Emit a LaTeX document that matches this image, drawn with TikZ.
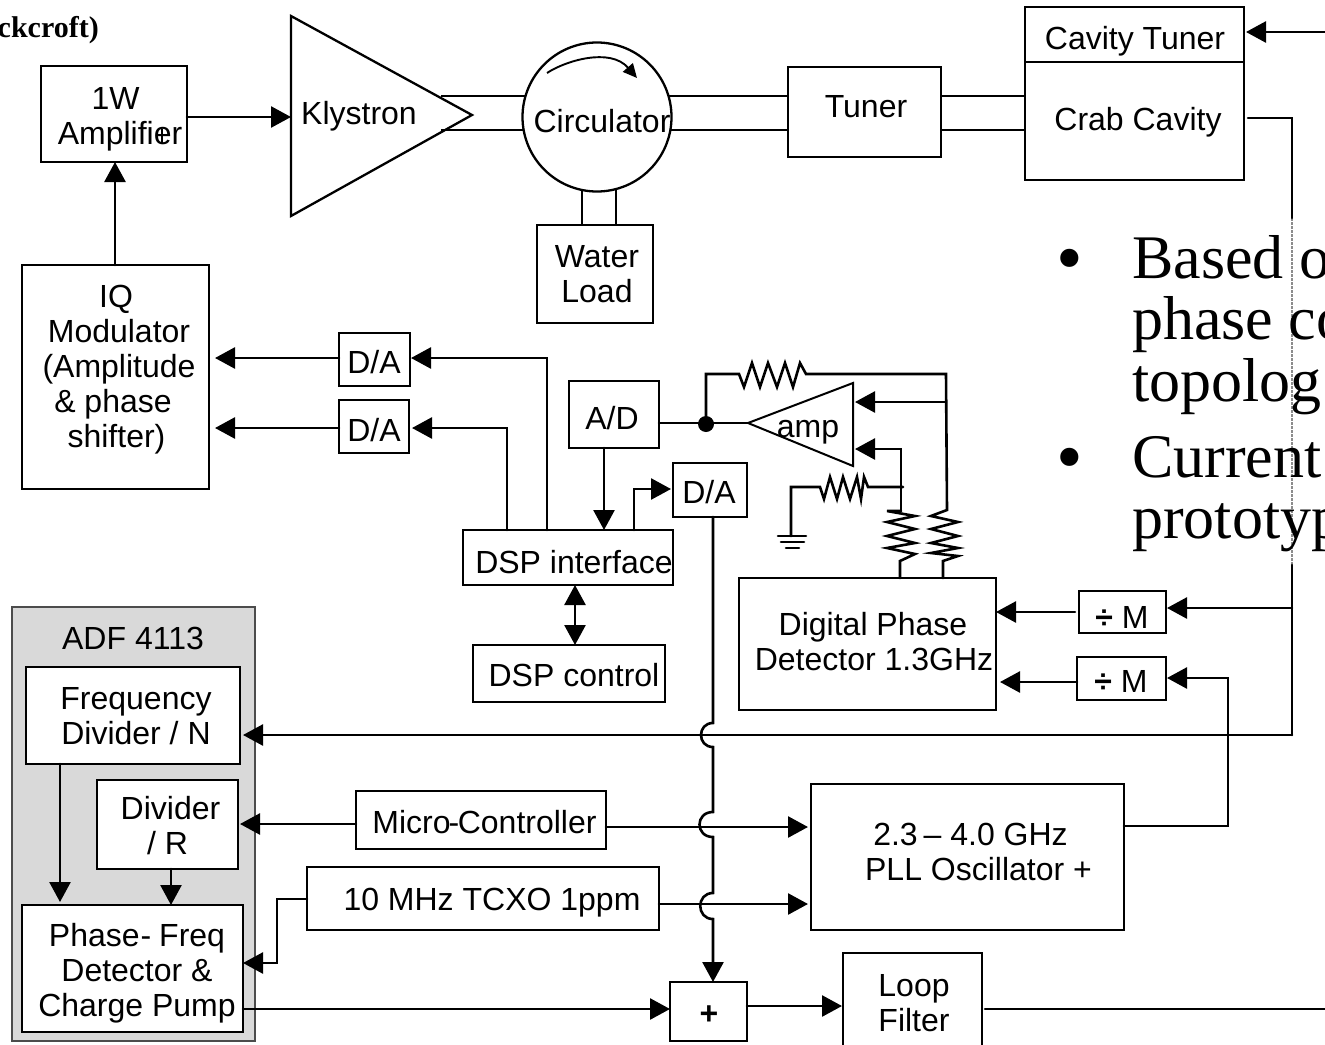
\documentclass[tikz,border=0pt]{standalone}
\usepackage{fontspec}
\setmainfont{Liberation Sans}
\newfontfamily\serifface{Liberation Serif}
\usetikzlibrary{arrows.meta}
\tikzset{
  wire/.style={line width=2.6pt,line cap=round,line join=miter},
  rf/.style={line width=1.9pt},
  arr/.style={wire,-{Triangle[length=20pt,width=21pt]}},
  darr/.style={wire,{Triangle[length=20pt,width=21pt]}-{Triangle[length=20pt,width=21pt]}},
  blk/.style={draw,line width=2.3pt,inner sep=0pt,outer sep=0pt,fill=white},
  lbl/.style={inner sep=0pt,align=center,font=\fontsize{32}{35}\selectfont},
  big/.style={inner sep=0pt,align=left,anchor=north west,font=\serifface\fontsize{62}{61.5}\selectfont},
  bul/.style={inner sep=0pt,anchor=base,font=\serifface\fontsize{76}{76}\selectfont},
}
\newcommand\blkbox[5]{\node[blk,minimum width={#3-#1},minimum height={#4-#2}] (#5) at ({(#1+#3)/2},{(#2+#4)/2}) {};}
\begin{document}
\begin{tikzpicture}[x=1pt,y=-1pt]
\useasboundingbox (0,0) rectangle (1325,1044);
\clip (0,0) rectangle (1325,1044);
% free ends
\coordinate (tuneIn) at (1325,32);
\coordinate (filterOut) at (1325,1009);
\coordinate (gapTop) at (1292,218);
\coordinate (gapBot) at (1292,565);
\coordinate (tapM) at (1292,608);
\coordinate (tapN) at (1292,735);
% partial heading
\node[inner sep=0pt,anchor=base east,font=\serifface\bfseries\fontsize{30}{32}\selectfont] (head) at (99,37) {ckcroft)};
% ADF panel
\node[draw=black!70,fill=black!15,line width=1.8pt,inner sep=0pt,outer sep=0pt,minimum width=243,minimum height=434] (adf) at (133.5,824) {};
\node[lbl] (adft) at (133,638) {ADF 4113};
% blocks
\blkbox{41}{66}{187}{162}{amp1}
\blkbox{788}{67}{941}{157}{tuner}
\blkbox{1025}{7}{1244}{180}{cav}
\blkbox{537}{225}{653}{323}{water}
\blkbox{22}{265}{209}{489}{iq}
\blkbox{339}{333}{410}{386}{daA}
\blkbox{339}{400}{409}{453}{daB}
\blkbox{569}{381}{659}{448}{ad}
\blkbox{463}{530}{673}{585}{dsp}
\blkbox{473}{645}{665}{702}{ctrl}
\blkbox{673}{463}{747}{517}{daC}
\blkbox{739}{578}{996}{710}{det}
\blkbox{1079}{591}{1166}{633}{divA}
\blkbox{1077}{657}{1166}{700}{divB}
\blkbox{811}{784}{1124}{930}{pll}
\blkbox{356}{791}{606}{849}{micro}
\blkbox{307}{867}{659}{930}{tcxo}
\blkbox{26}{667}{240}{764}{freq}
\blkbox{97}{780}{238}{869}{divr}
\blkbox{22}{905}{243}{1032}{pfd}
\blkbox{670}{982}{747}{1041}{plus}
\blkbox{843}{953}{982}{1050}{loop}
\draw[line width=2.3pt] (cav.west |- 0,62) -- (cav.east |- 0,62);
% klystron
\coordinate (kA) at (291,16); \coordinate (kB) at (291,216); \coordinate (kC) at (472,115);
\draw[line width=2.3pt,line join=miter] (kA) -- (kC) -- (kB) -- cycle;
\coordinate (kU) at (441,96); \coordinate (kL) at (441,130);
% circulator
\node[circle,draw,line width=2.3pt,minimum size=149,inner sep=0pt,outer sep=0pt] (circ) at (597,117) {};
\draw[rf] (kU) -- (circ.163 |- kU);
\draw[rf] (kL) -- (circ.190 |- kL);
\draw[rf] (circ.17 |- kU) -- (tuner.west |- kU);
\draw[rf] (circ.-10 |- kL) -- (tuner.west |- kL);
\draw[rf] (tuner.east |- kU) -- (cav.west |- kU);
\draw[rf] (tuner.east |- kL) -- (cav.west |- kL);
\draw[rf] (582,190) -- (water.north -| 582,0);
\draw[rf] (616,190) -- (water.north -| 616,0);
\draw[line width=1.9pt,-{Triangle[length=14pt,width=13pt]}] (547,73) .. controls (565,61) and (610,47) .. (637,78);
% amp
\coordinate (aT) at (748,423); \coordinate (aU) at (853,383); \coordinate (aL) at (853,466);
\draw[line width=2pt] (aT) -- (aU) -- (aL) -- cycle;
\node[lbl] (ampt) at (808,432) {amp};
% text in blocks
\node[lbl] (amp1t) at (120,119) {1W\kern9pt\\Amplifier};
\draw[line width=1.2pt] (162,129) -- (162,143);
\node[lbl] (klyt) at (359,116) {Klystron};
\node[lbl] (circt) at (602,121) {Circulator};
\node[lbl] (tunert) at (866,107) {Tuner};
\node[lbl] (cavtA) at (1135,41) {Cavity Tuner};
\node[lbl] (cavtB) at (1138,122) {Crab Cavity};
\node[lbl] (watert) at (597,274) {Water\\Load};
\node[lbl] (iqt) at (119,370) {IQ\kern6pt\\Modulator\\(Amplitude\\\&\ phase\kern12pt\\shifter)\kern5pt};
\node[lbl] (daAt) at (374,362) {D/A};
\node[lbl] (daBt) at (374,430) {D/A};
\node[lbl] (adt) at (612,418) {A/D};
\node[lbl] (daCt) at (709,492) {D/A};
\node[lbl] (dspt) at (574,562) {DSP interface};
\node[lbl] (ctrlt) at (574,675) {DSP control};
\node[lbl] (dett) at (874,642) {Digital Phase\kern2pt\\Detector 1.3GHz};
\node[lbl] (divAt) at (1122,617) {\textbf{÷} M};
\node[lbl] (divBt) at (1121,681) {\textbf{÷} M};
\node[lbl] (pllt) at (978.5,852) {2.3\kern-3pt\ – 4.0 GHz\kern16pt\\PLL Oscillator +};
\node[lbl] (microt) at (484.5,822) {Micro\kern-2pt-\kern-1.5pt Controller};
\node[lbl] (tcxot) at (492,903) {10 MHz TCXO 1ppm};
\node[lbl] (freqt) at (136,716) {Frequency\\Divider / N};
\node[lbl] (divrt) at (170.5,826) {Divider\\/ R\kern6pt};
\node[lbl] (pfdt) at (137,973.5) {Phase\kern1pt-\kern-1pt\ Freq\\Detector \&\\Charge Pump};
\node[lbl,font=\bfseries\fontsize{32}{35}\selectfont] (plust) at (709,1015) {+};
\node[lbl] (loopt) at (914,1003.5) {Loop\\Filter};
% gray overlay edge of the text frame
\draw[black!45,line width=2.4pt,dash pattern=on 3pt off 1pt] (gapTop) -- (gapBot);
% bullet text
\node[bul] (bulA) at (1070,283) {•};
\node[bul] (bulB) at (1070,482) {•};
\node[big] (txtA) at (1132,235) {Based o\\phase co\\topolog};
\node[big] (txtB) at (1132,436) {Current\\prototyp};
% connectors
\draw[arr] (amp1.east |- 0,117) -- (kA |- 0,117);
\draw[arr] (iq.north -| 115,0) -- (amp1.south -| 115,0);
\draw[arr,shorten >=2pt] (tuneIn) -- (cav.east |- tuneIn);
\draw[wire] (1248,118) -- (1292,118) -- (gapTop);
\draw[wire] (gapBot) -- (tapM) -- (tapN);
\draw[arr,shorten >=1pt] (tapM) -- (divA.east |- tapM);
\draw[arr,shorten >=3pt] (tapN) -- (freq.east |- tapN);
\draw[arr] (daA.west |- 0,358) -- (215,358);
\draw[arr] (daB.west |- 0,428) -- (215,428);
\draw[arr,shorten >=1pt] (dsp.north -| 547,0) -- (547,358) -- (daA.east |- 0,358);
\draw[arr,shorten >=3pt] (dsp.north -| 507,0) -- (507,428) -- (daB.east |- 0,428);
\draw[arr] (ad.south -| 604,0) -- (dsp.north -| 604,0);
\draw[darr] (dsp.south -| 575,0) -- (ctrl.north -| 575,0);
\draw[arr,shorten >=2pt] (dsp.north -| 634,0) -- (634,489) -- (daC.west |- 0,489);
\draw[wire] (ad.east |- aT) -- (aT);
\node[circle,fill=black,minimum size=16,inner sep=0pt] (junc) at (706,424) {};
% feedback network
\draw[wire] (junc.center) -- (706,374) -- (739,374) -- (744,387) -- (752,363) -- (760,387) -- (768,363) -- (777,387) -- (785,363) -- (793,387) -- (800,363) -- (806,374) -- (946,374) -- (947,510) -- (931,516) -- (958,522) -- (931,529) -- (958,536) -- (931,543) -- (958,548) -- (931,553) -- (958,556) -- (943,561) -- (det.north -| 943,0);
\draw[arr,shorten >=2pt] (946,402) -- (aU |- 0,402);
\draw[arr,shorten >=2pt] (901,511) -- (901,449) -- (aU |- 0,449);
\draw[wire] (det.north -| 900,0) -- (900,561) -- (915,554) -- (887,548) -- (915,543) -- (887,536) -- (915,529) -- (887,522) -- (915,516) -- (887,511) -- (901,511);
\draw[wire] (903,487) -- (868,487) -- (864,477) -- (861,499) -- (857,477) -- (850,499) -- (843,477) -- (837,499) -- (830,477) -- (824,499) -- (820,487) -- (791,487) -- (791,536);
\draw[wire] (778,536) -- (806,536);
\draw[wire] (781,542) -- (804,542);
\draw[wire] (786,548) -- (799,548);
% dividers
\draw[arr,shorten <=4pt] (divA.west |- 0,612) -- (det.east |- 0,612);
\draw[arr,shorten >=4pt] (divB.west |- 0,682) -- (det.east |- 0,682);
\draw[arr,shorten >=1pt] (pll.east |- 0,826) -- (1228,826) -- (1228,678) -- (divB.east |- 0,678);
% D/A down with jumps
\draw[arr] (daC.south -| 713,0) -- (713,723) .. controls (697,723) and (697,747) .. (713,747)
  -- (713,812) .. controls (695,812) and (695,837) .. (713,837)
  -- (713,893) .. controls (696,893) and (696,919) .. (713,919)
  -- (plus.north -| 713,0);
% micro / tcxo
\draw[arr,shorten >=2pt] (micro.west |- 0,824) -- (divr.east |- 0,824);
\draw[arr,shorten >=3pt] (micro.east |- 0,827) -- (pll.west |- 0,827);
\draw[arr,shorten >=3pt] (tcxo.east |- 0,904) -- (pll.west |- 0,904);
\draw[arr] (tcxo.west |- 0,899) -- (277,899) -- (277,963) -- (pfd.east |- 0,963);
% ADF internal
\draw[arr,shorten >=3pt] (freq.south -| 60,0) -- (pfd.north -| 60,0);
\draw[arr] (divr.south -| 171,0) -- (pfd.north -| 171,0);
% output chain
\draw[arr] (pfd.east |- 0,1009) -- (plus.west |- 0,1009);
\draw[arr,shorten >=1pt] (plus.east |- 0,1006) -- (loop.west |- 0,1006);
\draw[wire] (985,1009) -- (filterOut);
\end{tikzpicture}
\end{document}
